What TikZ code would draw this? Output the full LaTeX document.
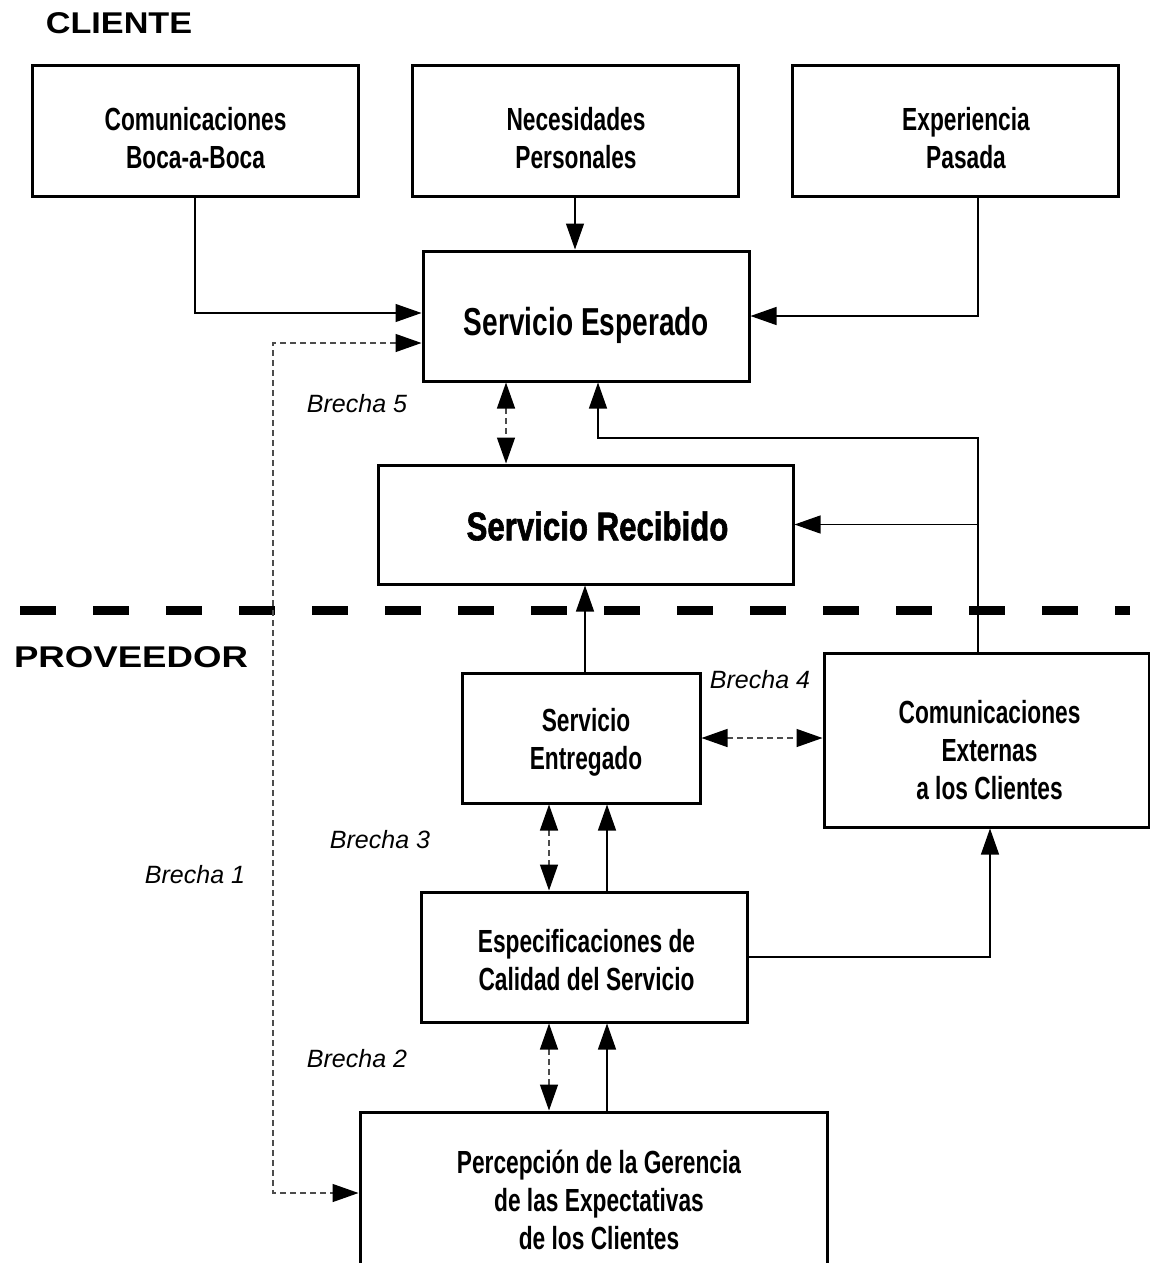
\documentclass[tikz,border=0pt]{standalone}
\usepackage{fontspec}
\setmainfont{Liberation Sans}
\newfontfamily\condfont[FakeStretch=0.71]{Liberation Sans Bold}
\newfontfamily\condbig[FakeStretch=0.72]{Liberation Sans Bold}
\newfontfamily\condheavy[FakeStretch=0.78,FakeBold=1.5]{Liberation Sans Bold}
\newfontfamily\headfont[FakeStretch=1.14]{Liberation Sans Bold}
\newfontfamily\headwide[FakeStretch=1.22]{Liberation Sans Bold}
\newfontfamily\gapfont{Liberation Sans}
\usetikzlibrary{arrows.meta}
\tikzset{
  box/.style={draw, line width=3pt, inner sep=0pt},
  boxtext/.style={align=center, inner sep=0pt,
    font=\condfont\fontsize{32}{38}\selectfont},
  bigtext/.style={boxtext, font=\condbig\fontsize{39}{44}\selectfont},
  conn/.style={line width=1.2pt, -{Triangle[length=26pt,width=18pt]}},
  gap/.style={line width=1.4pt, black!70, dash pattern=on 6pt off 4pt,
    {Triangle[length=26pt,width=18pt,color=black]}-{Triangle[length=26pt,width=18pt,color=black]}},
  gaplabel/.style={font=\gapfont\itshape\fontsize{25}{30}\selectfont},
  heading/.style={font=\headfont\fontsize{30}{34}\selectfont},
  divider/.style={line width=9pt, dash pattern=on 36pt off 37pt}
}
\begin{document}
\begin{tikzpicture}[x=1pt,y=-1pt]
\clip (0,0) rectangle (1150,1263);
\fill[white] (0,0) rectangle (1150,1263);

% section headings and divider
\node[heading] (cliente) at (119,23) {CLIENTE};
\node[heading, font=\headwide\fontsize{30}{34}\selectfont] (proveedor) at (131,657) {PROVEEDOR};
\coordinate (divL) at (20,610);
\coordinate (divR) at (1130,610);
\draw[divider] (divL) -- (divR);

% customer side boxes
\node[box, minimum width=326pt, minimum height=130pt] (boca) at (195,131) {};
\node[box, minimum width=326pt, minimum height=130pt] (neces) at (575,131) {};
\node[box, minimum width=326pt, minimum height=130pt] (exper) at (955,131) {};
\node[box, minimum width=326pt, minimum height=130pt] (esper) at (586,316) {};
\node[box, minimum width=415pt, minimum height=119pt] (recib) at (585.5,524.5) {};

% provider side boxes
\node[box, minimum width=238pt, minimum height=130pt] (entreg) at (581,738) {};
\node[box, minimum width=325pt, minimum height=174pt] (extern) at (986.5,740) {};
\node[box, minimum width=326pt, minimum height=130pt] (espec) at (584,957) {};
\node[box, minimum width=467pt, minimum height=188pt] (percep) at (593.5,1206) {};

% box captions
\node[boxtext] (boca-t) at (195.5,138.5) {Comunicaciones\\Boca-a-Boca};
\node[boxtext] (neces-t) at (576,138.5) {Necesidades\\Personales};
\node[boxtext] (exper-t) at (966,138.5) {Experiencia\\Pasada};
\node[bigtext] (esper-t) at (586.5,325) {Servicio Esperado};
\node[bigtext, font=\condheavy\fontsize{40}{44}\selectfont] (recib-t) at (597.5,526) {Servicio Recibido};
\node[boxtext] (entreg-t) at (586,742) {Servicio\\Entregado};
\node[boxtext] (extern-t) at (989.5,750) {Comunicaciones\\Externas\\a los Clientes};
\node[boxtext] (espec-t) at (586.5,960.5) {Especificaciones de\\Calidad del Servicio};
\node[boxtext] (percep-t) at (599,1199.5) {Percepción de la Gerencia\\de las Expectativas\\de los Clientes};

% helper coordinates
\coordinate (b1) at (273,700);
\coordinate (xc) at ([xshift=-8.5pt]extern.north);
\coordinate (j1) at (598,438);
\coordinate (gx) at (549,0);
\coordinate (sx) at (607,0);

% influences on expected and received service
\draw[conn] (boca.south) |- ([yshift=3pt]esper.west);
\draw[conn] (neces.south) -- (neces.south |- esper.north);
\draw[conn] ([xshift=23pt]exper.south) |- (esper.east);
\draw[conn] (xc) |- (j1) -- (j1 |- esper.south);
\draw[conn] (xc |- recib.east) -- (recib.east);
\draw[conn] ([xshift=4pt]entreg.north) -- ([xshift=4pt]entreg.north |- recib.south);
\draw[conn] (espec.east) -| ([xshift=3.5pt]extern.south);
\draw[conn] (sx |- espec.north) -- (sx |- entreg.south);
\draw[conn] (sx |- percep.north) -- (sx |- espec.south);

% gaps
\draw[gap] ([yshift=-27pt]esper.west) -| (b1) |- ([yshift=13pt]percep.west);
\draw[gap] ([xshift=-80pt]esper.south) -- ([xshift=-80pt]esper.south |- recib.north);
\draw[gap] (entreg.east) -- (entreg.east -| extern.west);
\draw[gap] (gx |- entreg.south) -- (gx |- espec.north);
\draw[gap] (gx |- espec.south) -- (gx |- percep.north);

\node[gaplabel] (g5) at (357,404) {Brecha 5};
\node[gaplabel] (g4) at (760,680) {Brecha 4};
\node[gaplabel] (g3) at (380,840) {Brecha 3};
\node[gaplabel] (g1) at (195,875) {Brecha 1};
\node[gaplabel] (g2) at (357,1059) {Brecha 2};
\end{tikzpicture}
\end{document}
